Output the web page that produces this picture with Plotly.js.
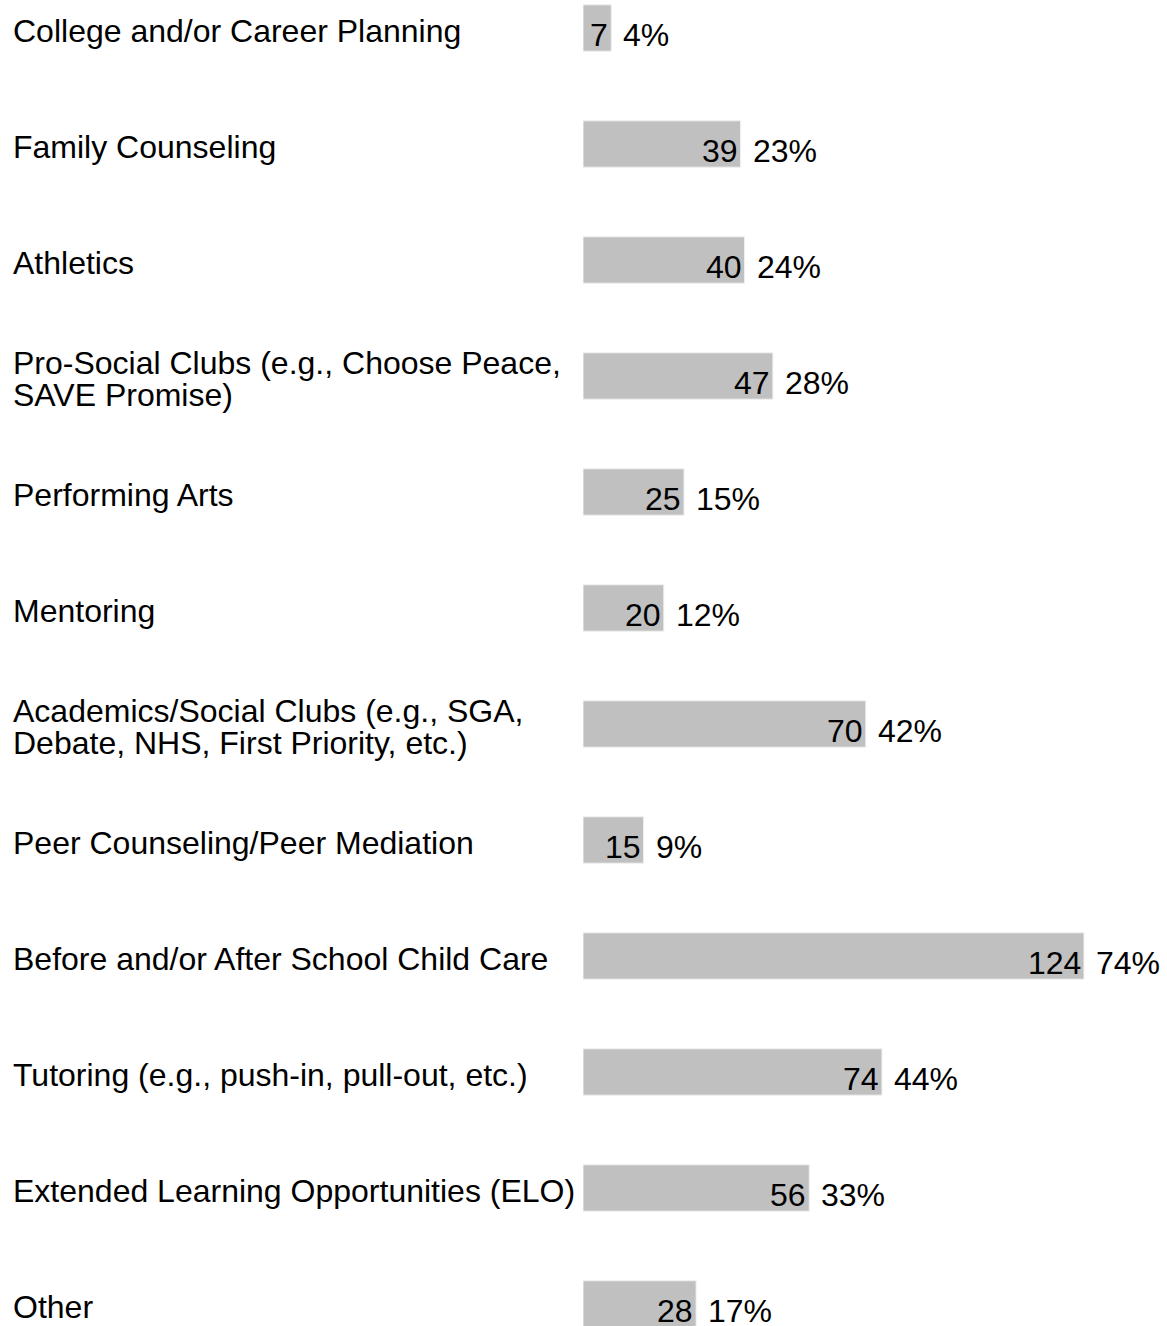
<!DOCTYPE html>
<html>
<head>
<meta charset="utf-8">
<script src="https://cdn.plot.ly/plotly-3.0.1.min.js"></script>
<style>
  html, body { margin: 0; padding: 0; background: #fff; }
  #chart { width: 1167px; height: 1326px; }
</style>
</head>
<body>
<div id="chart"></div>
<script>
const categories = [
  "College and/or Career Planning",
  "Family Counseling",
  "Athletics",
  "Pro-Social Clubs (e.g., Choose Peace,<br>SAVE Promise)",
  "Performing Arts",
  "Mentoring",
  "Academics/Social Clubs (e.g., SGA,<br>Debate, NHS, First Priority, etc.)",
  "Peer Counseling/Peer Mediation",
  "Before and/or After School Child Care",
  "Tutoring (e.g., push-in, pull-out, etc.)",
  "Extended Learning Opportunities (ELO)",
  "Other"
];
const counts = [7, 39, 40, 47, 25, 20, 70, 15, 124, 74, 56, 28];
const percents = ["4%", "23%", "24%", "28%", "15%", "12%", "42%", "9%", "74%", "44%", "33%", "17%"];

const W = 1167, H = 1326;
const FONT = { family: "Liberation Sans, Arial, sans-serif", size: 32, color: "#000" };

const trace = {
  type: "bar",
  orientation: "h",
  y: categories,
  x: counts,
  marker: { color: "#c0c0c0", line: { color: "#f0f0f0", width: 1 } },
  hoverinfo: "skip"
};

const annotations = [];
categories.forEach((cat, i) => {
  const lines = cat.split("<br>");
  if (lines.length === 1) {
    annotations.push({ xref: "paper", yref: "y", x: 11 / W, y: cat, text: lines[0],
      xanchor: "left", yanchor: "middle", showarrow: false, font: FONT, yshift: -3 });
  } else {
    lines.forEach((ln, k) => {
      annotations.push({ xref: "paper", yref: "y", x: 11 / W, y: cat, text: ln,
        xanchor: "left", yanchor: "middle", showarrow: false, font: FONT,
        yshift: k === 0 ? 13 : -19 });
    });
  }
  annotations.push({ xref: "x", yref: "y", x: counts[i], y: cat, text: String(counts[i]),
    xanchor: "right", yanchor: "middle", showarrow: false, font: FONT, xshift: -1, yshift: -7 });
  annotations.push({ xref: "x", yref: "y", x: counts[i], y: cat, text: percents[i],
    xanchor: "left", yanchor: "middle", showarrow: false, font: FONT, xshift: 10, yshift: -7 });
});

const layout = {
  width: W, height: H,
  margin: { l: 0, r: 0, t: 0, b: 0, pad: 0 },
  paper_bgcolor: "#fff", plot_bgcolor: "#fff",
  showlegend: false,
  bargap: 0.6,
  font: FONT,
  xaxis: { domain: [583 / W, 1], range: [0, (W - 583) / 4.04], visible: false, fixedrange: true },
  yaxis: { type: "category", categoryarray: categories, categoryorder: "array",
           range: [11.19, -0.2414], visible: false, fixedrange: true },
  annotations: annotations
};

Plotly.newPlot("chart", [trace], layout, { displayModeBar: false, staticPlot: true });
</script>
</body>
</html>
